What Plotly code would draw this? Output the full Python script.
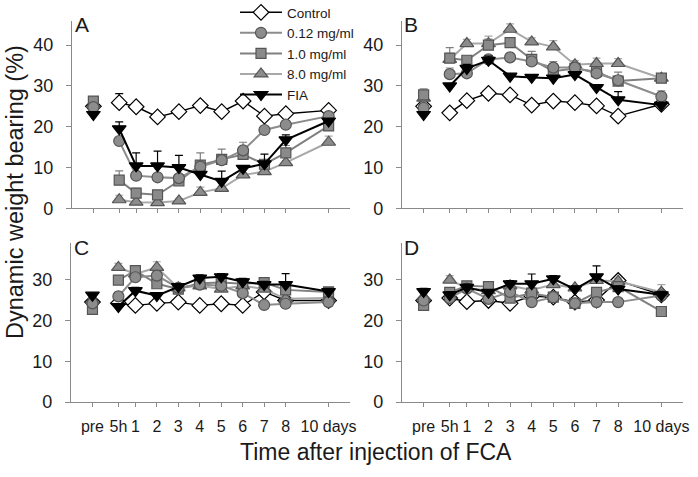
import plotly.graph_objects as go

# ---------------- data ----------------
x_days = [-1, 5 / 24, 1, 2, 3, 4, 5, 6, 7, 8, 10]
tick_labels = ["pre", "5h", "1", "2", "3", "4", "5", "6", "7", "8", "10 days"]
series_names = ["Control", "0.12 mg/ml", "1.0 mg/ml", "8.0 mg/ml", "FIA"]
panel_letters = ["A", "B", "C", "D"]

# Panel A
a_control = [25.0, 25.9, 24.9, 22.4, 23.7, 25.2, 23.7, 26.3, 22.6, 23.2, 24.0]
a_c012 = [24.8, 16.5, 8.0, 7.6, 7.4, 10.2, 11.8, 14.2, 19.2, 20.5, 22.6]
a_c10 = [26.3, 6.9, 3.7, 3.3, 6.7, 10.6, 12.0, 13.2, 10.8, 13.6, 20.2]
a_c80 = [25.5, 2.1, 1.5, 1.4, 1.8, 3.9, 4.9, 8.2, 9.0, 11.2, 16.2]
a_fia = [23.0, 19.5, 10.4, 10.4, 10.0, 8.3, 6.6, 9.8, 10.9, 16.8, 21.4]
a_control_err = [1.0, 2.2, 0.3, 0.3, 0.3, 0.3, 0.3, 0.3, 0.3, 1.0, 0.5]
a_c012_err = [0.5, 0.5, 0.5, 0.5, 0.5, 0.5, 0.5, 0.5, 0.5, 1.0, 0.5]
a_c10_err = [0.5, 2.3, 1.2, 0.6, 0.5, 3.0, 2.5, 3.0, 0.5, 1.8, 0.8]
a_c80_err = [0.5, 1.1, 0.3, 0.3, 0.5, 1.3, 0.5, 0.5, 0.5, 0.5, 1.5]
a_fia_err = [0.5, 1.7, 3.2, 3.6, 3.0, 0.5, 2.5, 0.5, 2.4, 1.2, 0.5]

# Panel B
b_control = [25.0, 23.4, 26.4, 28.2, 27.8, 25.3, 26.3, 25.9, 25.1, 22.6, 25.5]
b_c012 = [24.6, 32.9, 33.1, 36.5, 37.0, 36.0, 34.5, 34.5, 33.1, 31.4, 27.4]
b_c10 = [27.8, 36.8, 36.3, 40.0, 40.6, 36.5, 33.6, 34.3, 33.5, 31.2, 31.9]
b_c80 = [27.0, 36.5, 40.4, 40.4, 43.9, 40.8, 39.6, 35.2, 35.5, 35.5, 31.9]
b_fia = [23.0, 30.0, 34.3, 36.3, 32.4, 32.1, 31.9, 32.8, 29.6, 26.6, 25.3]
b_control_err = [0.5, 0.5, 0.5, 0.5, 0.5, 0.5, 0.5, 0.5, 0.5, 0.5, 0.5]
b_c012_err = [0.5, 1.5, 1.0, 1.0, 1.0, 1.0, 1.5, 1.0, 1.0, 1.0, 1.4]
b_c10_err = [1.5, 2.6, 1.0, 1.5, 1.0, 2.0, 1.5, 1.0, 1.0, 2.2, 0.8]
b_c80_err = [1.0, 1.5, 1.0, 1.8, 1.3, 1.0, 1.5, 1.0, 1.3, 1.2, 0.8]
b_fia_err = [0.5, 0.5, 1.0, 1.0, 0.5, 0.5, 0.5, 0.5, 0.5, 2.0, 0.5]

# Panel C
c_control = [24.5, 24.2, 23.7, 24.2, 24.5, 23.7, 24.1, 23.7, 27.0, 24.9, 24.9]
c_c012 = [24.2, 25.9, 30.6, 31.0, 28.0, 28.8, 28.5, 26.7, 23.8, 24.1, 24.5]
c_c10 = [22.7, 29.9, 32.2, 29.0, 27.7, 29.1, 29.3, 29.0, 29.3, 27.5, 27.0]
c_c80 = [24.9, 33.0, 31.4, 33.0, 28.0, 28.5, 27.7, 28.5, 27.7, 25.3, 25.5]
c_fia = [26.2, 23.4, 27.3, 26.1, 28.3, 30.4, 30.7, 29.5, 28.8, 28.8, 27.1]
c_control_err = [0.5, 0.5, 0.5, 0.5, 0.5, 0.5, 1.0, 0.5, 0.5, 0.5, 0.5]
c_c012_err = [0.5, 1.0, 0.8, 0.8, 0.5, 0.8, 0.8, 0.5, 0.5, 0.5, 0.5]
c_c10_err = [0.5, 1.0, 0.8, 1.0, 0.5, 0.8, 1.5, 0.8, 1.0, 0.8, 0.8]
c_c80_err = [0.5, 1.0, 0.8, 1.4, 0.5, 0.8, 1.5, 0.8, 0.8, 0.8, 0.8]
c_fia_err = [0.5, 0.5, 0.8, 0.5, 0.5, 0.8, 0.8, 0.8, 0.8, 2.7, 0.8]

# Panel D
d_control = [24.9, 25.5, 24.6, 24.9, 24.2, 26.0, 25.7, 24.5, 25.0, 29.8, 26.3]
d_c012 = [24.9, 25.5, 27.8, 25.3, 27.0, 24.5, 25.7, 24.2, 24.5, 24.5, 26.1]
d_c10 = [23.7, 26.9, 28.5, 28.3, 25.5, 26.7, 25.7, 24.2, 26.9, 28.3, 22.2]
d_c80 = [25.7, 29.9, 28.0, 27.3, 28.5, 27.5, 28.8, 28.0, 29.8, 29.6, 26.9]
d_fia = [27.1, 26.3, 28.1, 26.9, 29.0, 29.0, 30.2, 27.7, 30.7, 27.7, 26.3]
d_control_err = [0.5, 0.5, 0.5, 0.5, 0.5, 0.5, 0.5, 0.5, 0.5, 0.8, 0.5]
d_c012_err = [0.5, 0.5, 0.8, 0.5, 0.8, 0.5, 0.5, 0.5, 0.5, 0.5, 0.5]
d_c10_err = [0.5, 0.5, 0.8, 0.5, 0.8, 0.5, 0.5, 0.5, 0.8, 0.5, 1.2]
d_c80_err = [0.8, 1.1, 0.8, 0.5, 0.8, 0.5, 0.8, 0.5, 0.8, 0.8, 1.9]
d_fia_err = [0.8, 0.8, 0.8, 0.5, 0.8, 2.4, 0.8, 0.8, 2.7, 0.8, 0.8]

panels = {
    "A": ([a_control, a_c012, a_c10, a_c80, a_fia],
          [a_control_err, a_c012_err, a_c10_err, a_c80_err, a_fia_err]),
    "B": ([b_control, b_c012, b_c10, b_c80, b_fia],
          [b_control_err, b_c012_err, b_c10_err, b_c80_err, b_fia_err]),
    "C": ([c_control, c_c012, c_c10, c_c80, c_fia],
          [c_control_err, c_c012_err, c_c10_err, c_c80_err, c_fia_err]),
    "D": ([d_control, d_c012, d_c10, d_c80, d_fia],
          [d_control_err, d_c012_err, d_c10_err, d_c80_err, d_fia_err]),
}

# ---------------- styles ----------------
styles = [
    dict(symbol="diamond", fill="white", edge="black", line="black", lw=1.4, size=12),
    dict(symbol="circle", fill="#8c8c8c", edge="#555555", line="#8c8c8c", lw=2, size=11),
    dict(symbol="square", fill="#8a8a8a", edge="#555555", line="#808080", lw=2, size=10),
    dict(symbol="triangle-up", fill="#8c8c8c", edge="#555555", line="#a8a8a8", lw=2, size=12),
    dict(symbol="triangle-down", fill="black", edge="black", line="black", lw=2, size=12),
]
draw_order = [0, 3, 2, 1, 4]

W, H = 698, 477
def px_x(v):
    return v / W
def px_y(v):
    return 1 - v / H

xdom = {"A": [72, 350], "B": [402, 683], "C": [71, 350], "D": [402, 683]}
ydom = {"A": [20.7, 208.3], "B": [20.7, 208.3], "C": [243, 402], "D": [243, 402]}
axis_ids = {"A": ("x", "y"), "B": ("x2", "y2"), "C": ("x3", "y3"), "D": ("x4", "y4")}

fig = go.Figure()

for p in panel_letters:
    vals, errs = panels[p]
    xa, ya = axis_ids[p]
    for i in draw_order:
        st = styles[i]
        xs = [x_days[0], None] + x_days[1:]
        ys = [vals[i][0], None] + vals[i][1:]
        es = [errs[i][0], None] + errs[i][1:]
        fig.add_trace(go.Scatter(
            x=xs, y=ys, xaxis=xa, yaxis=ya,
            mode="lines+markers",
            connectgaps=False,
            name=series_names[i],
            legendgroup=series_names[i],
            legendrank=i + 1,
            showlegend=(p == "A"),
            line=dict(color=st["line"], width=st["lw"]),
            marker=dict(symbol=st["symbol"], size=st["size"], color=st["fill"],
                        line=dict(color=st["edge"], width=1.2)),
            error_y=dict(type="data", symmetric=False, array=es,
                         arrayminus=[0] * len(es), color=st["line"],
                         thickness=1.2, width=4),
        ))

axis_color = "#8a8a8a"
font_family = "Liberation Sans, Arial, sans-serif"
text_color = "#1a1a1a"

layout = dict(
    width=W, height=H, autosize=False,
    margin=dict(l=0, r=0, t=0, b=0, autoexpand=False),
    paper_bgcolor="white", plot_bgcolor="white",
    font=dict(family=font_family, color=text_color),
    showlegend=True,
    legend=dict(x=px_x(235), y=px_y(-3), xanchor="left", yanchor="top",
                bgcolor="rgba(0,0,0,0)", font=dict(size=13.5, family=font_family, color=text_color),
                itemwidth=42, tracegroupgap=0),
)

for p in panel_letters:
    xa, ya = axis_ids[p]
    xkey = "xaxis" if xa == "x" else "xaxis" + xa[1:]
    ykey = "yaxis" if ya == "y" else "yaxis" + ya[1:]
    lower = p in ("C", "D")
    layout[xkey] = dict(
        domain=[px_x(xdom[p][0]), px_x(xdom[p][1])],
        range=[-2, 11], anchor=ya,
        tickmode="array", tickvals=x_days, ticktext=tick_labels,
        showticklabels=lower,
        ticks="outside", ticklen=4, tickcolor=axis_color, tickwidth=1,
        showline=True, linecolor=axis_color, linewidth=1.2,
        showgrid=False, zeroline=False,
        tickfont=dict(size=16, color=text_color),
        ticklabelstandoff=6,
    )
    layout[ykey] = dict(
        domain=[px_y(ydom[p][1]), px_y(ydom[p][0])],
        range=[0, 39] if lower else [0, 46], anchor=xa,
        tickmode="array", tickvals=[0, 10, 20, 30, 40],
        ticks="outside", ticklen=5, tickcolor=axis_color, tickwidth=1,
        showline=True, linecolor=axis_color, linewidth=1.2,
        showgrid=False, zeroline=False,
        tickfont=dict(size=18, color=text_color),
        ticklabelstandoff=9,
    )

fig.update_layout(**layout)

annotations = []
letter_pos = {"A": (73, 11), "B": (402, 11), "C": (72, 234), "D": (402, 234)}
for p in panel_letters:
    lx, ly = letter_pos[p]
    annotations.append(dict(text=p, x=px_x(lx), y=px_y(ly), xref="paper", yref="paper",
                            xanchor="left", yanchor="top", showarrow=False,
                            font=dict(size=21, color=text_color)))
annotations.append(dict(text="Dynamic weight bearing (%)", x=px_x(15), y=px_y(192),
                        xref="paper", yref="paper", textangle=-90, showarrow=False,
                        xanchor="center", yanchor="middle", font=dict(size=23.5, color=text_color)))
annotations.append(dict(text="Time after injection of FCA", x=px_x(376), y=px_y(452),
                        xref="paper", yref="paper", showarrow=False,
                        xanchor="center", yanchor="middle", font=dict(size=23, color=text_color)))
fig.update_layout(annotations=annotations)

fig.write_html("out.html",
               config={"displayModeBar": False},
               post_script="document.body.style.margin='0px';document.body.style.padding='0px';")
